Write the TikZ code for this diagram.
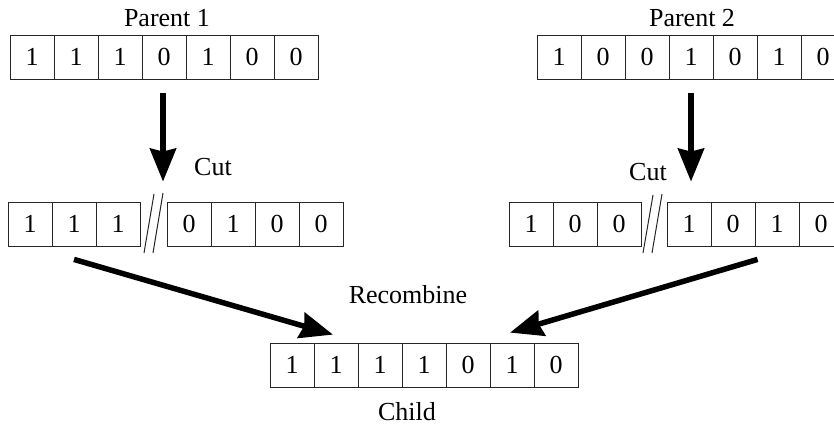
\documentclass[tikz,border=0pt]{standalone}
\usepackage{fontspec}
\setmainfont{Liberation Serif}
\usetikzlibrary{arrows.meta,calc}

% one row of bit cells: name, left x, top y, bits
\newcommand\bitrow[4]{%
  \foreach \b [count=\i] in {#4} {%
    \node[bitcell] (#1-\i) at ({#2+44*(\i-0.5)},{#3+22}) {\b};}}

\tikzset{
  bitcell/.style={draw=black!85, line width=0.8pt, minimum width=44pt,
    minimum height=44pt, inner sep=0pt, font=\fontsize{26}{30}\selectfont},
  caption/.style={font=\fontsize{26}{30}\selectfont, inner sep=0pt},
  bigarrow/.style={line width=5.5pt,
    -{Stealth[length=33pt, width=26pt, inset=3pt]}},
  cutmark/.style={line width=1pt, black!85}
}

\begin{document}
\begin{tikzpicture}[x=1pt, y=-1pt]
  \useasboundingbox (0,0) rectangle (834,436);
  \begin{scope}
  \clip (0,0) rectangle (834,436);

  % parents
  \bitrow{pa}{10}{35}{1,1,1,0,1,0,0}
  \bitrow{pb}{537}{35}{1,0,0,1,0,1,0}
  \node[caption] (pa-label) at (167,18) {Parent 1};
  \node[caption] (pb-label) at (692,18) {Parent 2};

  % parents after the cut
  \bitrow{la}{8}{202}{1,1,1}
  \bitrow{lb}{167}{202}{0,1,0,0}
  \bitrow{ra}{509}{202}{1,0,0}
  \bitrow{rb}{667}{202}{1,0,1,0}

  % cut marks
  \draw[cutmark] (144,253) -- (154,194);
  \draw[cutmark] (153,253) -- (163,193);
  \draw[cutmark] (643,253) -- (653,195);
  \draw[cutmark] (652,253) -- (662,194);
  \node[caption] (cut-a) at (213,167) {Cut};
  \node[caption] (cut-b) at (648,172) {Cut};

  % child
  \bitrow{ch}{270}{343}{1,1,1,1,0,1,0}
  \node[caption] (recomb) at (408,295) {Recombine};
  \node[caption] (child) at (407,412) {Child};

  % arrow end points
  \coordinate (a1s) at ($(pa-4.south)+(-1,14)$);
  \coordinate (a1e) at ($(a1s |- lb-1.north)+(0,-20)$);
  \coordinate (a2s) at ($(pb-4.south)+(0,14)$);
  \coordinate (a2e) at ($(a2s |- rb-1.north)+(0,-20)$);
  \coordinate (a3s) at ($(la-2.south)+(0,13)$);
  \coordinate (a3e) at ($(ch-2.north)+(-3,-8)$);
  \coordinate (a4s) at ($(rb-3.south west)+(3,13)$);
  \coordinate (a4e) at ($(ch-6.north)+(-2,-10)$);

  \draw[bigarrow] (a1s) -- (a1e);
  \draw[bigarrow] (a2s) -- (a2e);
  \draw[bigarrow] (a3s) -- (a3e);
  \draw[bigarrow] (a4s) -- (a4e);
  \end{scope}
\end{tikzpicture}
\end{document}
